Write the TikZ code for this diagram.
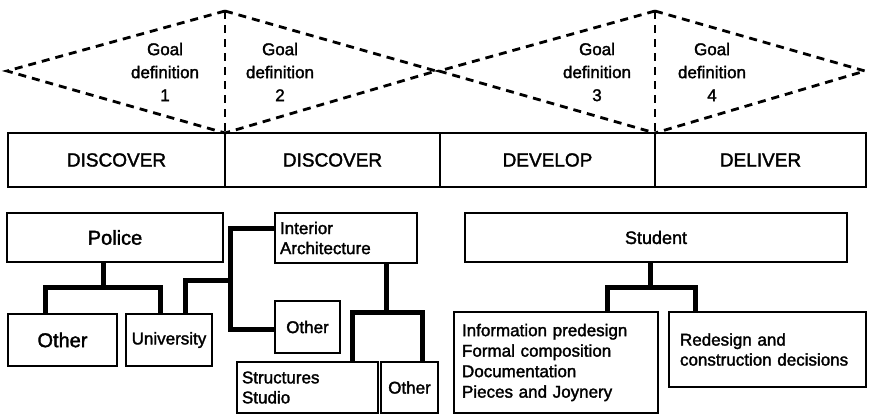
\documentclass[tikz,border=0pt]{standalone}
\usepackage{fontspec}
\setmainfont{Liberation Sans}[FakeBold=1.8]
\begin{document}
\begin{tikzpicture}[x=1pt,y=-1pt,
  box/.style={draw, line width=2.4pt, inner sep=0pt, font=\fontsize{17}{20}\selectfont},
  bigbox/.style={box, font=\fontsize{20}{22}\selectfont},
  lbox/.style={box, align=left, inner ysep=0pt},
  phase/.style={box, font=\fontsize{19}{22}\selectfont},
  conn/.style={line width=5pt, line join=miter},
  dsh/.style={line width=2.8pt, dash pattern=on 8pt off 6pt},
  goal/.style={align=center, font=\fontsize{17}{23}\selectfont, inner sep=0pt}]
\useasboundingbox (0,0) rectangle (869,415);

% goal diamonds
\coordinate (L1) at (7,71);
\coordinate (T1) at (225,11);
\coordinate (B1) at (225,133);
\coordinate (R1) at (436,71);
\coordinate (L2) at (439,71);
\coordinate (T2) at (655,11);
\coordinate (B2) at (655,133);
\coordinate (R2) at (865,71);
\draw[dsh] (T1) -- (L1) -- (B1);
\draw[dsh] (T1) -- (R1) -- (B1);
\draw[dsh] (T1) -- (B1);
\draw[dsh] (T2) -- (L2) -- (B2);
\draw[dsh] (T2) -- (R2) -- (B2);
\draw[dsh] (T2) -- (B2);

\node[goal] (g1) at (165,72) {Goal\\definition\\1};
\node[goal] (g2) at (280,72) {Goal\\definition\\2};
\node[goal] (g3) at (597,72) {Goal\\definition\\3};
\node[goal] (g4) at (712,72) {Goal\\definition\\4};

% phase bar
\node[phase, minimum width=217pt, minimum height=54pt] (p1) at (116.5,160) {DISCOVER};
\node[phase, minimum width=215pt, minimum height=54pt] (p2) at (332.5,160) {DISCOVER};
\node[phase, minimum width=215pt, minimum height=54pt] (p3) at (547.5,160) {DEVELOP};
\node[phase, minimum width=211pt, minimum height=54pt] (p4) at (760.5,160) {DELIVER};

% boxes
\node[bigbox, minimum width=216pt, minimum height=49pt] (police) at (115,237.5) {Police};
\node[bigbox, minimum width=109pt, minimum height=52pt] (other1) at (62.5,340) {Other};
\node[box, minimum width=86pt, minimum height=52pt] (univ) at (169,340) {University};
\node[lbox, inner xsep=5pt, text width=132pt, minimum height=50pt] (interior) at (346,238) {Interior\\Architecture};
\node[box, minimum width=65pt, minimum height=52pt] (other2) at (307.5,327) {Other};
\node[lbox, inner xsep=5pt, text width=131pt, minimum height=51pt] (struct) at (307.5,387.5) {Structures\\Studio};
\node[box, minimum width=57pt, minimum height=51pt] (other3) at (409.5,387.5) {Other};
\node[box, minimum width=382pt, minimum height=49pt, font=\fontsize{18}{20}\selectfont] (student) at (656,237.5) {Student};
\node[lbox, inner xsep=8pt, text width=188pt, minimum height=101pt, font=\fontsize{17}{20.5}\selectfont] (info) at (556,362.5) {Information predesign\\Formal composition\\Documentation\\Pieces and Joynery};
\node[lbox, inner xsep=11pt, text width=175pt, minimum height=75pt] (redesign) at (767.5,349.5) {Redesign and\\construction decisions};

% connectors: police
\coordinate (pd) at ([xshift=-12pt]police.south);
\coordinate (pj) at (103,287);
\coordinate (o1t) at ([xshift=-17.5pt]other1.north);
\coordinate (ut) at ([xshift=-9pt]univ.north);
\draw[conn] (pd) -- (pj);
\draw[conn] (o1t) -- (o1t |- pj) -- (ut |- pj) -- (ut);

% university to interior / other
\coordinate (ut2) at ([xshift=16pt]univ.north);
\coordinate (bx) at (230,280);
\coordinate (iw) at ([yshift=10pt]interior.west);
\coordinate (ow) at ([yshift=-2pt]other2.west);
\draw[conn] (ut2) |- (bx);
\draw[conn] (iw) -- (iw -| bx) -- (ow -| bx) -- (ow);

% interior down
\coordinate (id) at ([xshift=40pt]interior.south);
\coordinate (ij) at (386,312);
\coordinate (st) at ([xshift=44.5pt]struct.north);
\coordinate (o3t) at ([xshift=12.5pt]other3.north);
\draw[conn] (id) -- (ij);
\draw[conn] (st) -- (st |- ij) -- (o3t |- ij) -- (o3t);

% student down
\coordinate (sd) at ([xshift=-6pt]student.south);
\coordinate (sj) at (650,287);
\coordinate (it) at ([xshift=51pt]info.north);
\coordinate (rt) at ([xshift=-72.5pt]redesign.north);
\draw[conn] (sd) -- (sj);
\draw[conn] (it) -- (it |- sj) -- (rt |- sj) -- (rt);
\end{tikzpicture}
\end{document}
